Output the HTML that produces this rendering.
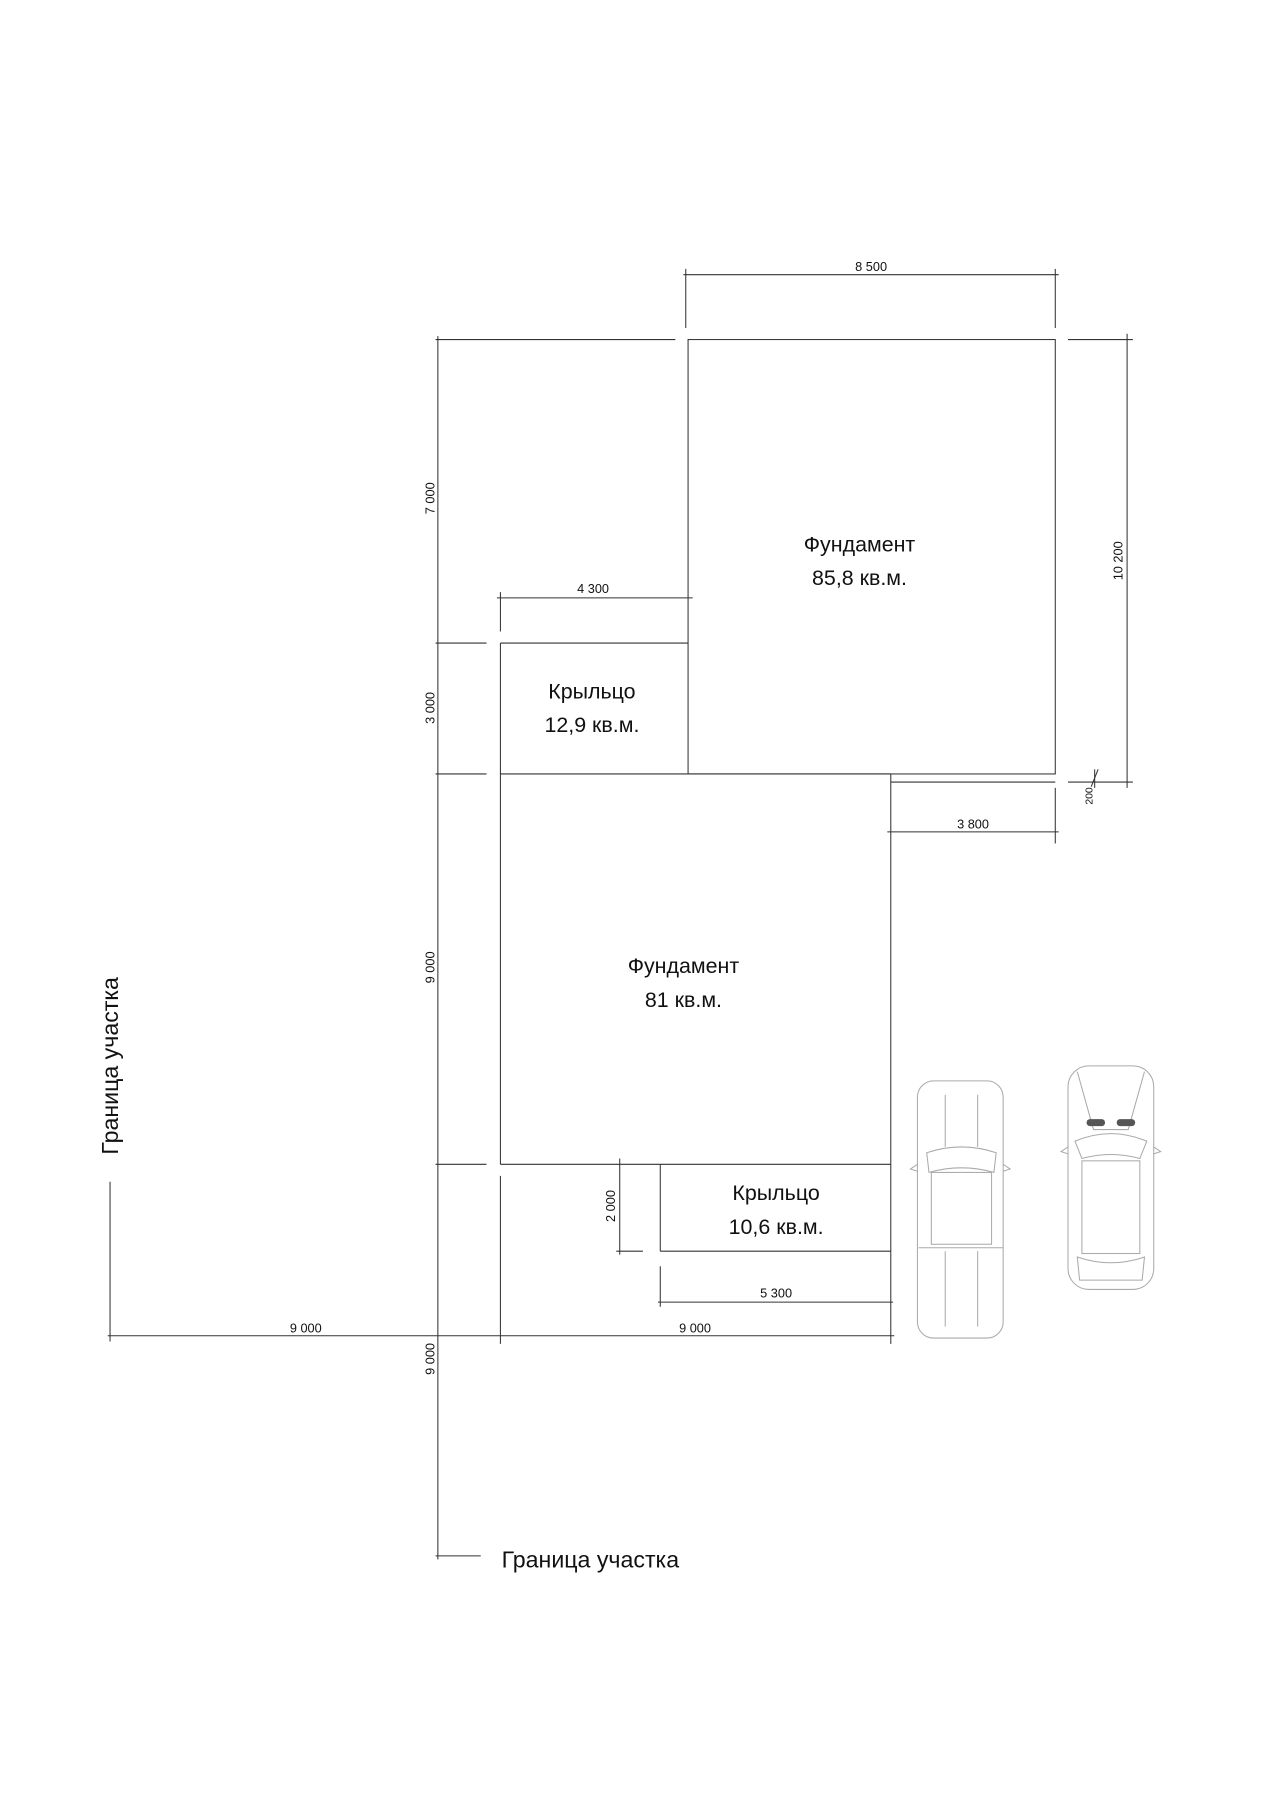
<!DOCTYPE html>
<html><head><meta charset="utf-8"><style>
html,body{margin:0;padding:0;background:#fff;}
svg{display:block;}
text{font-family:"Liberation Sans",sans-serif;fill:#111;}
.d{font-size:11px;}
.l{font-size:18.5px;}
</style></head><body>
<svg width="1280" height="1812" viewBox="0 0 1105 1564" xmlns="http://www.w3.org/2000/svg">
<g stroke="#333" stroke-width="0.9" fill="none">
<!-- top dim 8500 -->
<line x1="590" y1="237" x2="914" y2="237"/>
<line x1="592" y1="232" x2="592" y2="283"/>
<line x1="911" y1="232" x2="911" y2="283"/>
<!-- big foundation -->
<rect x="594" y="293" width="317" height="375"/>
<line x1="376" y1="293" x2="583" y2="293"/>
<!-- 10200 -->
<line x1="973" y1="288" x2="973" y2="680"/>
<line x1="922" y1="293" x2="978" y2="293"/>
<line x1="922" y1="675" x2="978" y2="675"/>
<line x1="769" y1="675" x2="911" y2="675"/>
<line x1="942" y1="679" x2="948" y2="664"/>
<line x1="945" y1="664" x2="945" y2="680"/>
<!-- left vertical dim -->
<line x1="378" y1="290" x2="378" y2="1346"/>
<line x1="376" y1="555" x2="420" y2="555"/>
<line x1="376" y1="668" x2="420" y2="668"/>
<line x1="376" y1="1005" x2="420" y2="1005"/>
<line x1="376" y1="1343" x2="415" y2="1343"/>
<!-- krylco top -->
<line x1="432" y1="555" x2="594" y2="555"/>
<line x1="432" y1="555" x2="432" y2="1005"/>
<line x1="432" y1="668" x2="769" y2="668"/>
<!-- 4300 -->
<line x1="429" y1="516" x2="598" y2="516"/>
<line x1="432" y1="511" x2="432" y2="545"/>
<!-- lower foundation -->
<line x1="432" y1="1005" x2="769" y2="1005"/>
<line x1="769" y1="668" x2="769" y2="1160"/>
<!-- 3800 -->
<line x1="766" y1="718" x2="914" y2="718"/>
<line x1="911" y1="680" x2="911" y2="728"/>
<!-- lower krylco -->
<line x1="570" y1="1005" x2="570" y2="1080"/>
<line x1="570" y1="1080" x2="769" y2="1080"/>
<!-- 2000 -->
<line x1="535" y1="1000" x2="535" y2="1083"/>
<line x1="532" y1="1080" x2="555" y2="1080"/>
<!-- 5300 -->
<line x1="568" y1="1124" x2="771" y2="1124"/>
<line x1="570" y1="1093" x2="570" y2="1128"/>
<!-- bottom dim -->
<line x1="93" y1="1153" x2="772" y2="1153"/>
<line x1="95" y1="1020" x2="95" y2="1158"/>
<line x1="432" y1="1015" x2="432" y2="1160"/>
</g>
<!-- labels -->
<text class="d" x="752" y="237" text-anchor="middle" dy="-3">8 500</text>
<text class="d" x="512" y="512" text-anchor="middle">4 300</text>
<text class="d" x="840" y="715" text-anchor="middle">3 800</text>
<text class="d" x="670" y="1120" text-anchor="middle">5 300</text>
<text class="d" x="264" y="1150" text-anchor="middle">9 000</text>
<text class="d" x="600" y="1150" text-anchor="middle">9 000</text>
<text class="d" transform="translate(375,430) rotate(-90)" text-anchor="middle">7 000</text>
<text class="d" transform="translate(375,611) rotate(-90)" text-anchor="middle">3 000</text>
<text class="d" transform="translate(375,835) rotate(-90)" text-anchor="middle">9 000</text>
<text class="d" transform="translate(375,1173) rotate(-90)" text-anchor="middle">9 000</text>
<text class="d" transform="translate(969,484) rotate(-90)" text-anchor="middle">10 200</text>
<text class="d" transform="translate(531,1041) rotate(-90)" text-anchor="middle">2 000</text>
<text style="font-size:9px" transform="translate(943,687) rotate(-90)" text-anchor="middle">200</text>
<text class="l" x="742" y="476" text-anchor="middle">Фундамент</text>
<text class="l" x="742" y="505" text-anchor="middle">85,8 кв.м.</text>
<text class="l" x="511" y="603" text-anchor="middle">Крыльцо</text>
<text class="l" x="511" y="632" text-anchor="middle">12,9 кв.м.</text>
<text class="l" x="590" y="840" text-anchor="middle">Фундамент</text>
<text class="l" x="590" y="869" text-anchor="middle">81 кв.м.</text>
<text class="l" x="670" y="1036" text-anchor="middle">Крыльцо</text>
<text class="l" x="670" y="1065" text-anchor="middle">10,6 кв.м.</text>
<text class="l" transform="translate(102,920) rotate(-90)" text-anchor="middle" style="font-size:20px">Граница участка</text>
<text class="l" x="433" y="1353" style="font-size:20px">Граница участка</text>
<!-- cars -->
<g stroke="#aaa" stroke-width="0.9" fill="none">
<rect x="792" y="933" width="74" height="222" rx="14"/>
<line x1="816" y1="945" x2="816" y2="990"/>
<line x1="844" y1="945" x2="844" y2="990"/>
<path d="M800 995 Q830 985 860 995 L858 1012 Q830 1004 802 1012 Z"/>
<rect x="804" y="1012" width="52" height="62"/>
<line x1="793" y1="1077" x2="866" y2="1077"/>
<line x1="816" y1="1080" x2="816" y2="1145"/>
<line x1="844" y1="1080" x2="844" y2="1145"/>
<path d="M792 1005 l-6 4 l6 2 M866 1005 l6 4 l-6 2"/>
<rect x="922" y="920" width="74" height="193" rx="18"/>
<path d="M930 925 L944 975 L974 975 L988 925"/>
<path d="M928 985 Q959 972 990 985 L984 1000 Q959 993 934 1000 Z"/>
<rect x="934" y="1002" width="50" height="80"/>
<path d="M930 1085 Q959 1095 988 1085 L986 1105 L932 1105 Z"/>
<path d="M922 990 l-6 4 l6 2 M996 990 l6 4 l-6 2"/>
</g>
<g fill="#555"><rect x="938" y="966" width="16" height="6" rx="3"/><rect x="964" y="966" width="16" height="6" rx="3"/></g>
</svg>
</body></html>
